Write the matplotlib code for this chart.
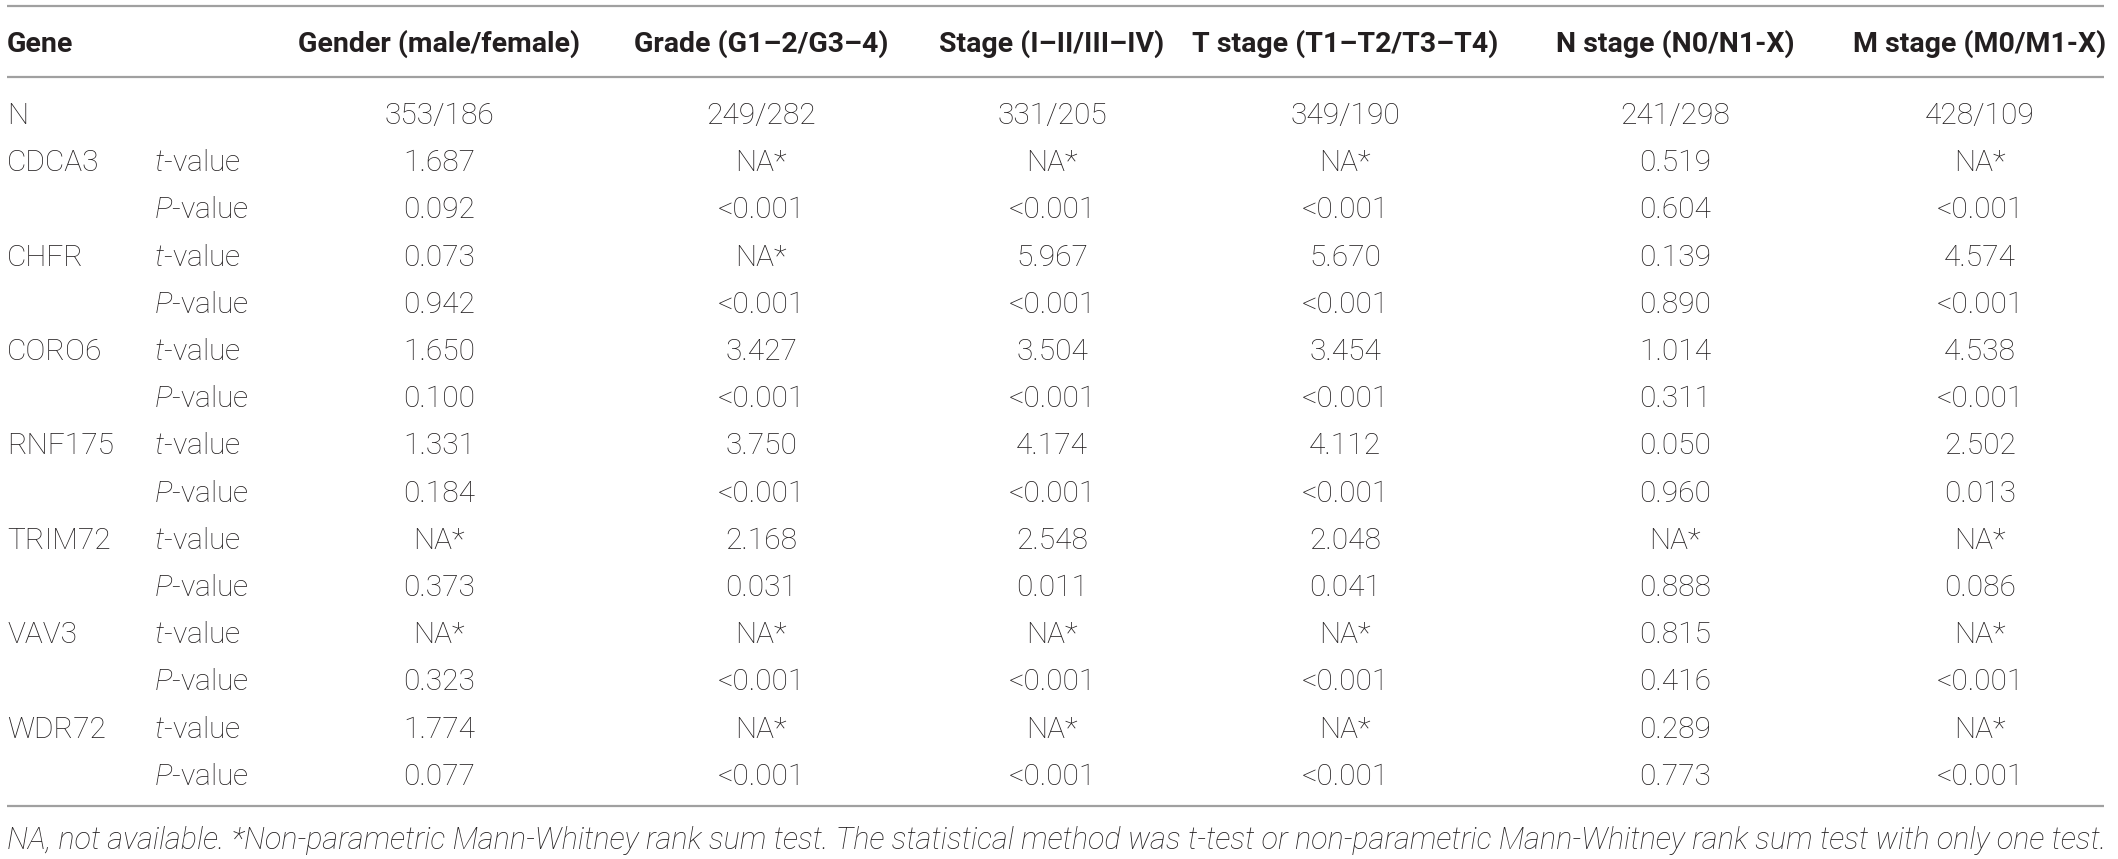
import matplotlib
matplotlib.use("Agg")
import matplotlib.pyplot as plt

plt.rcParams["font.family"] = ["Roboto", "DejaVu Sans"]
plt.rcParams["mathtext.fontset"] = "custom"
plt.rcParams["mathtext.rm"] = "Roboto:light"
plt.rcParams["mathtext.it"] = "Roboto:italic:light"

# table content
headers = ["Gene", "Gender (male/female)", "Grade (G1–2/G3–4)", "Stage (I–II/III–IV)",
           "T stage (T1–T2/T3–T4)", "N stage (N0/N1-X)", "M stage (M0/M1-X)"]
n_counts = ["353/186", "249/282", "331/205", "349/190", "241/298", "428/109"]
genes = ["CDCA3", "CHFR", "CORO6", "RNF175", "TRIM72", "VAV3", "WDR72"]
t_values = [
    ["1.687", "NA*", "NA*", "NA*", "0.519", "NA*"],
    ["0.073", "NA*", "5.967", "5.670", "0.139", "4.574"],
    ["1.650", "3.427", "3.504", "3.454", "1.014", "4.538"],
    ["1.331", "3.750", "4.174", "4.112", "0.050", "2.502"],
    ["NA*", "2.168", "2.548", "2.048", "NA*", "NA*"],
    ["NA*", "NA*", "NA*", "NA*", "0.815", "NA*"],
    ["1.774", "NA*", "NA*", "NA*", "0.289", "NA*"],
]
p_values = [
    ["0.092", "<0.001", "<0.001", "<0.001", "0.604", "<0.001"],
    ["0.942", "<0.001", "<0.001", "<0.001", "0.890", "<0.001"],
    ["0.100", "<0.001", "<0.001", "<0.001", "0.311", "<0.001"],
    ["0.184", "<0.001", "<0.001", "<0.001", "0.960", "0.013"],
    ["0.373", "0.031", "0.011", "0.041", "0.888", "0.086"],
    ["0.323", "<0.001", "<0.001", "<0.001", "0.416", "<0.001"],
    ["0.077", "<0.001", "<0.001", "<0.001", "0.773", "<0.001"],
]
footnote = ("NA, not available. *Non-parametric Mann-Whitney rank sum test. The statistical "
            "method was t-test or non-parametric Mann-Whitney rank sum test with only one test.")

# layout (pixel units, origin top-left)
W, H = 2118, 859
col_x = [439, 761, 1052, 1345, 1675, 1980]
x_gene, x_stat = 7, 154
y_head, y_row0, row_step = 42, 114, 47.2
lines_y = [6, 77, 806]
y_foot = 839
base = 10   # baseline offset from text middle
TXT = "#231f20"
FS = 21.5
FS_HEAD = 20.5

fig = plt.figure(figsize=(W / 100, H / 100), dpi=100)
ax = fig.add_axes([0, 0, 1, 1])
ax.set_xlim(0, W)
ax.set_ylim(H, 0)
ax.axis("off")

for y in lines_y:
    ax.plot([7, 2104], [y, y], color="#a0a0a0", lw=1.6, solid_capstyle="butt")

ax.text(x_gene, y_head + base, headers[0], fontsize=FS_HEAD, fontweight="bold", color=TXT,
        va="baseline")
for cx, h in zip(col_x, headers[1:]):
    ax.text(cx, y_head + base, h, fontsize=FS_HEAD, fontweight="bold", color=TXT,
            ha="center", va="baseline")

kw = dict(fontsize=FS, fontweight="light", color=TXT, va="baseline")
ax.text(x_gene, y_row0 + base, "N", **kw)
for cx, v in zip(col_x, n_counts):
    ax.text(cx, y_row0 + base, v, ha="center", **kw)

for g, gene in enumerate(genes):
    yt = y_row0 + (1 + 2 * g) * row_step + base
    yp = y_row0 + (2 + 2 * g) * row_step + base
    ax.text(x_gene, yt, gene, **kw)
    ax.text(x_stat, yt, "$t$-value", **kw)
    ax.text(x_stat, yp, "$P$-value", **kw)
    for cx, tv, pv in zip(col_x, t_values[g], p_values[g]):
        ax.text(cx, yt, tv, ha="center", **kw)
        ax.text(cx, yp, pv, ha="center", **kw)

ax.text(x_gene, y_foot + base, footnote, fontsize=22, fontstyle="italic",
        fontweight="light", color=TXT, va="baseline")

fig.savefig("out.png", dpi=100)
